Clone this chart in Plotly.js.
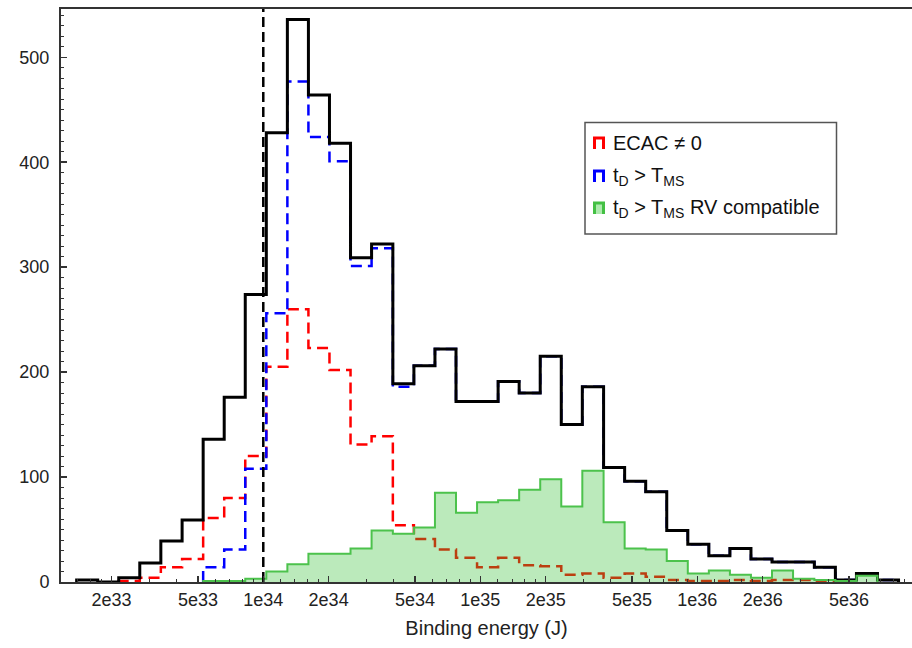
<!DOCTYPE html>
<html><head><meta charset="utf-8">
<script src="https://cdn.plot.ly/plotly-3.0.1.min.js"></script>
<style>html,body{margin:0;padding:0;background:#fff}#chart{width:912px;height:648px}</style>
</head><body><div id="chart"></div>
<script>
// log10 of histogram bin edges (J)
const binEdgesLog = [33.140, 33.237, 33.334, 33.431, 33.528, 33.626, 33.723, 33.820, 33.917, 34.014,
  34.111, 34.208, 34.305, 34.402, 34.499, 34.597, 34.694, 34.791, 34.888, 34.985,
  35.082, 35.179, 35.276, 35.373, 35.470, 35.568, 35.665, 35.762, 35.859, 35.956,
  36.053, 36.150, 36.247, 36.344, 36.441, 36.539, 36.636, 36.733, 36.830, 36.927];
// counts per bin
const allSystems = [2, 0, 4, 18, 39, 59, 136, 176, 274, 428, 536, 464, 418, 309, 322, 189, 206, 222, 172, 172,
  191, 180, 215, 150, 186, 109, 96, 86, 49, 36, 25, 32, 22, 19, 19, 14, 2, 8, 2];
const tdGtTms = [0, 0, 0, 0, 0, 0, 14, 31, 108, 256, 477, 424, 401, 301, 318, 186, 206, 222, 172, 172,
  191, 180, 215, 150, 186, 109, 96, 86, 49, 36, 25, 32, 22, 19, 19, 14, 2, 8, 2];
const ecacNonZero = [0, 0, 1, 4, 14, 22, 61, 80, 120, 205, 260, 223, 202, 131, 139, 54, 41, 31, 23, 14,
  23, 16, 15, 7, 8, 4, 8, 5, 2, 1, 1, 2, 1, 2, 2, 1, 0, 0, 0];
const rvCompatible = [0, 0, 0, 0, 0, 0, 1, 1, 3, 10, 17, 27, 27, 32, 49, 46, 52, 85, 66, 76,
  78, 88, 98, 72, 106, 57, 32, 31, 20, 8, 11, 7, 4, 11, 3, 2, 1, 6, 0];
const tickValues = [2e33, 5e33, 1e34, 2e34, 5e34, 1e35, 2e35, 5e35, 1e36, 2e36, 5e36];
const tickLabels = ['2e33', '5e33', '1e34', '2e34', '5e34', '1e35', '2e35', '5e35', '1e36', '2e36', '5e36'];
const legendLabels = ['ECAC \u2260 0', 't<sub>D</sub> > T<sub>MS</sub>', 't<sub>D</sub> > T<sub>MS</sub> RV compatible'];
const cutoffEnergy = 1e34;
const yMax = 546;

function stepXY(vals) {
  let first = vals.findIndex(v => v > 0);
  let last = vals.length - 1;
  while (last > 0 && vals[last] <= 0) last--;
  const xs = [Math.pow(10, binEdgesLog[first])], ys = [0];
  for (let i = first; i <= last; i++) { xs.push(Math.pow(10, binEdgesLog[i])); ys.push(vals[i]); }
  xs.push(Math.pow(10, binEdgesLog[last + 1])); ys.push(vals[last]);
  xs.push(Math.pow(10, binEdgesLog[last + 1])); ys.push(0);
  return {x: xs, y: ys};
}

const red = stepXY(ecacNonZero), blue = stepXY(tdGtTms), blk = stepXY(allSystems), grn = stepXY(rvCompatible);
const traces = [
  {type: 'scatter', mode: 'lines', x: red.x, y: red.y, line: {shape: 'hv', color: '#ff0000', width: 2.5, dash: '11px,6px'}, hoverinfo: 'skip'},
  {type: 'scatter', mode: 'lines', x: blue.x, y: blue.y, line: {shape: 'hv', color: '#0000ff', width: 2.5, dash: '11px,6px'}, hoverinfo: 'skip'},
  {type: 'scatter', mode: 'lines', x: blk.x, y: blk.y, line: {shape: 'hv', color: '#000000', width: 3}, hoverinfo: 'skip'},
  {type: 'scatter', mode: 'lines', x: grn.x, y: grn.y, fill: 'tozeroy', fillcolor: 'rgba(50,190,50,0.33)', line: {shape: 'hv', color: '#4cc24c', width: 2}, hoverinfo: 'skip'},
  {type: 'scatter', mode: 'lines', x: [cutoffEnergy, cutoffEnergy], y: [0, yMax], line: {color: '#000', width: 2.5, dash: '10px,5px'}, hoverinfo: 'skip'}
];

const minorVals = [];
[33, 34, 35, 36].forEach(d => [1.2, 1.4, 1.6, 1.8, 3, 4, 6, 7, 8, 9].forEach(m => { const v = m * Math.pow(10, d); if (v > 1.2e33 && v < 9.7e36) minorVals.push(v); }));

// manual legend (paper coordinates)
const plotL = 61, plotR = 912, plotT = 9, plotB = 582;
const px = x => (x - plotL) / (plotR - plotL);
const py = y => (plotB - y) / (plotB - plotT);
const legendColors = ['#ff0000', '#0000ff', '#44c044'];
const legendFills = ['rgba(0,0,0,0)', 'rgba(0,0,0,0)', 'rgba(120,220,120,0.6)'];
const legendY = [143, 176, 208];
const shapes = [{type: 'rect', xref: 'paper', yref: 'paper', x0: px(585), x1: px(836.5), y0: py(234), y1: py(122.5), line: {color: '#555', width: 1.5}, fillcolor: '#fff', layer: 'above'}];
const annotations = [];
legendLabels.forEach((t, i) => {
  shapes.push({type: 'path', xref: 'paper', yref: 'paper', xsizemode: 'pixel', ysizemode: 'pixel', xanchor: px(599), yanchor: py(legendY[i]),
    path: 'M-4.5,-6 L-4.5,5 L4.5,5 L4.5,-6', line: {color: legendColors[i], width: 3}, fillcolor: legendFills[i], layer: 'above'});
  annotations.push({xref: 'paper', yref: 'paper', x: px(611), y: py(legendY[i]), xanchor: 'left', yanchor: 'middle', showarrow: false,
    text: t, font: {size: 20, color: '#111', family: 'Liberation Sans, Arial, sans-serif'}});
});

const layout = {
  width: 912, height: 648,
  margin: {l: plotL, r: 912 - plotR, t: plotT, b: 648 - plotB},
  paper_bgcolor: '#fff', plot_bgcolor: '#fff',
  showlegend: false,
  font: {family: 'Liberation Sans, Arial, sans-serif', size: 18, color: '#222'},
  xaxis: {type: 'log', range: [33.068, 36.989], tickmode: 'array', tickvals: tickValues, ticktext: tickLabels,
    ticks: 'inside', ticklen: 6, tickwidth: 1.5, tickcolor: '#333', showgrid: false, zeroline: false,
    showline: true, linecolor: '#333', linewidth: 2, mirror: true,
    minor: {tickmode: 'array', tickvals: minorVals, ticks: 'inside', ticklen: 3, tickwidth: 1, tickcolor: '#333', showgrid: false},
    tickfont: {size: 18, color: '#222'},
    title: {text: 'Binding energy (J)', font: {size: 20, color: '#222'}, standoff: 12}},
  yaxis: {range: [0, yMax], tickmode: 'linear', tick0: 0, dtick: 100, ticks: 'inside', ticklen: 6, tickwidth: 1.5, tickcolor: '#333',
    showgrid: false, zeroline: false, showline: true, linecolor: '#333', linewidth: 2, mirror: false,
    minor: {dtick: 10, ticks: 'inside', ticklen: 3, tickwidth: 1, tickcolor: '#333', showgrid: false},
    tickfont: {size: 18, color: '#222'}, ticklabelstandoff: 6},
  shapes: shapes, annotations: annotations
};
Plotly.newPlot('chart', traces, layout, {staticPlot: true, displayModeBar: false});
</script></body></html>
